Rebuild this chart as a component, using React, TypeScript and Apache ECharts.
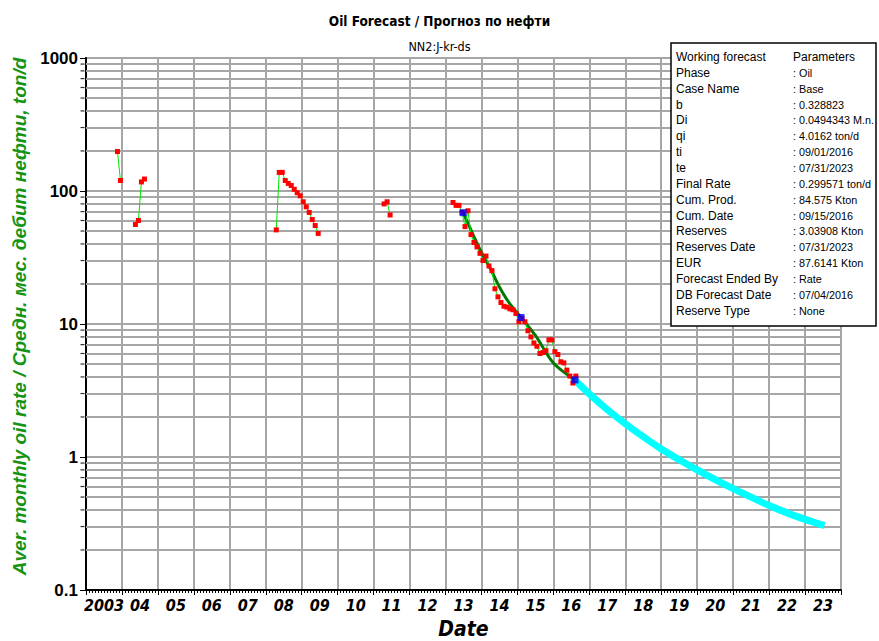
import { useEffect, useRef } from 'react';
import * as echarts from 'echarts';

const NARROW = "'Liberation Sans Narrow', 'Arial Narrow', 'DejaVu Sans Condensed', sans-serif";
const ARIAL = "'Liberation Sans', Arial, sans-serif";
const GRID = '#a6a6a6';

// X axis (years) labels
const yearLabels = ['2003', '04', '05', '06', '07', '08', '09', '10', '11', '12', '13', '14', '15', '16', '17', '18', '19', '20', '21', '22', '23'];

// Y axis (log) labels
const yTickValues = [0.1, 1, 10, 100, 1000];
const yTickLabels = ['0.1', '1', '10', '100', '1000'];
const yMinorValues = [
  0.2, 0.3, 0.4, 0.5, 0.6, 0.7, 0.8, 0.9,
  2, 3, 4, 5, 6, 7, 8, 9,
  20, 30, 40, 50, 60, 70, 80, 90,
  200, 300, 400, 500, 600, 700, 800, 900,
];

// Historical monthly oil rate, ton/d (segments separated by gaps)
const seg1Months = ['2003-11', '2003-12'];
const seg1Rates = [198, 120];
const seg2Months = ['2004-05', '2004-06', '2004-07', '2004-08'];
const seg2Rates = [56, 60, 117, 123];
const seg3Months = ['2008-04', '2008-05', '2008-06', '2008-07', '2008-08', '2008-09', '2008-10', '2008-11', '2008-12',
  '2009-01', '2009-02', '2009-03', '2009-04', '2009-05', '2009-06'];
const seg3Rates = [51, 138, 138, 120, 114, 110, 103, 97, 92, 83, 76, 69, 61, 55, 48];
const seg4Months = ['2011-04', '2011-05', '2011-06'];
const seg4Rates = [80, 83, 66];
const seg5Months = [
  '2013-03', '2013-04', '2013-05', '2013-06', '2013-07', '2013-08', '2013-09', '2013-10', '2013-11', '2013-12',
  '2014-01', '2014-02', '2014-03', '2014-04', '2014-05', '2014-06', '2014-07', '2014-08', '2014-09', '2014-10', '2014-11', '2014-12',
  '2015-01', '2015-02', '2015-03', '2015-04', '2015-05', '2015-06', '2015-07', '2015-08', '2015-09', '2015-10', '2015-11', '2015-12',
  '2016-01', '2016-02', '2016-03', '2016-04', '2016-05', '2016-06', '2016-07', '2016-08',
];
const seg5Rates = [
  82, 78, 78, 69, 54, 71, 47, 41, 38, 34,
  30, 32.4, 27.3, 25.2, 18.4, 16, 14.5, 13.6, 13.4, 13.0, 12.8, 12.0,
  10.4, 11.0, 10.4, 8.9, 8.0, 7.2, 6.8, 6.0, 6.1, 6.3, 7.6, 7.6,
  6.2, 5.9, 5.2, 5.1, 4.5, 4.06, 3.6, 4.06,
];

// Decline fit (decimal years)
const fitDates = [2013.49, 2013.75, 2014.0, 2014.25, 2014.5, 2014.75, 2015.1, 2015.5, 2016.0, 2016.6];
const fitRates = [68.7, 48, 34.5, 26, 19, 14.7, 11.2, 8.2, 5.1, 3.8];

// Fit anchor points
const anchorDates = [2013.49, 2015.1, 2016.6];
const anchorRates = [68.7, 11.2, 3.8];

// Forecast
const fcDates = [2016.62, 2017.0, 2017.5, 2018.0, 2018.5, 2019.0, 2019.5, 2020.0, 2020.5, 2021.0, 2021.5, 2022.0, 2022.5, 2023.0, 2023.54];
const fcRates = [3.75, 2.98, 2.27, 1.78, 1.42, 1.15, 0.955, 0.80, 0.676, 0.578, 0.499, 0.432, 0.38, 0.34, 0.305];

// Parameter box
const legendLabels = ['Working forecast', 'Phase', 'Case Name', 'b', 'Di', 'qi', 'ti', 'te', 'Final Rate', 'Cum. Prod.',
  'Cum. Date', 'Reserves', 'Reserves Date', 'EUR', 'Forecast Ended By', 'DB Forecast Date', 'Reserve Type'];
const legendValues = ['Parameters', ': Oil', ': Base', ': 0.328823', ': 0.0494343 M.n.', ': 4.0162 ton/d', ': 09/01/2016',
  ': 07/31/2023', ': 0.299571 ton/d', ': 84.575 Kton', ': 09/15/2016', ': 3.03908 Kton', ': 07/31/2023', ': 87.6141 Kton',
  ': Rate', ': 07/04/2016', ': None'];

const monthToYear = (m: string) => {
  const [y, mo] = m.split('-').map(Number);
  return y + (mo - 0.5) / 12;
};
const zip = (xs: number[], ys: number[]) => xs.map((x, i) => [x, ys[i]]);

const histSegments = [
  [seg1Months, seg1Rates],
  [seg2Months, seg2Rates],
  [seg3Months, seg3Rates],
  [seg4Months, seg4Rates],
  [seg5Months, seg5Rates],
] as [string[], number[]][];

function buildOption(): any {
  const histSeries = histSegments.map(([ms, rs]) => ({
    type: 'line',
    data: ms.map((m, i) => [monthToYear(m), rs[i]]),
    symbol: 'rect',
    symbolSize: 5,
    showAllSymbol: true,
    itemStyle: { color: '#ff0000' },
    lineStyle: { color: '#00e600', width: 1 },
    z: 5,
    silent: true,
  }));

  const boxChildren: any[] = [
    {
      type: 'rect', z: 100, zlevel: 0,
      shape: { x: 671, y: 43, width: 205, height: 283 },
      style: { fill: '#ffffff', stroke: '#000000', lineWidth: 1.5 },
    },
  ];
  legendLabels.forEach((lab, i) => {
    const y = 57 + i * 15.85;
    boxChildren.push({
      type: 'text', x: 676, y, z: 101,
      style: { text: lab, fontFamily: ARIAL, fontSize: 12, fill: '#000', verticalAlign: 'middle' },
    });
    boxChildren.push({
      type: 'text', x: 793, y, z: 101,
      style: { text: legendValues[i], fontFamily: ARIAL, fontSize: i === 0 ? 12 : 10.8, fill: '#000', verticalAlign: 'middle' },
    });
  });

  return {
    animation: false,
    backgroundColor: '#ffffff',
    title: [
      {
        text: 'Oil Forecast / Прогноз по нефти',
        left: 'center', top: 9,
        textStyle: { fontFamily: NARROW, fontSize: 13.5, fontWeight: 'bold', color: '#000' },
      },
      {
        text: 'NN2:J-kr-ds',
        left: 'center', top: 35,
        textStyle: { fontFamily: NARROW, fontSize: 12.5, fontWeight: 'normal', color: '#000' },
      },
    ],
    grid: {
      left: 86, right: 38, top: 58, bottom: 51,
      outerBoundsMode: 'none',
      containLabel: false,
      show: true, borderColor: '#000', borderWidth: 1.5, backgroundColor: '#fff',
    },
    xAxis: [
      {
        type: 'value', min: 2003, max: 2024, interval: 1,
        axisLine: { lineStyle: { color: '#000', width: 2 } },
        axisTick: { length: 5, lineStyle: { color: '#000', width: 1 } },
        minorTick: { show: true, splitNumber: 12, length: 3, lineStyle: { color: '#000', width: 1 } },
        axisLabel: { show: false },
        splitLine: { show: true, lineStyle: { color: GRID, width: 2 } },
      },
      {
        type: 'category', data: yearLabels, position: 'bottom', boundaryGap: true,
        axisLine: { show: false }, axisTick: { show: false }, splitLine: { show: false },
        axisLabel: {
          interval: 0, margin: 7, color: '#000',
          fontFamily: NARROW, fontWeight: 'bold', fontStyle: 'italic', fontSize: 16,
        },
        name: 'Date', nameLocation: 'middle', nameGap: 28,
        nameTextStyle: { fontFamily: NARROW, fontWeight: 'bold', fontStyle: 'italic', fontSize: 21, color: '#000' },
      },
    ],
    yAxis: {
      type: 'log', logBase: 10, min: 0.1, max: 1000,
      axisLine: { show: true, lineStyle: { color: '#000', width: 2 } },
      axisTick: { show: true, length: 6, lineStyle: { color: '#000', width: 1 } },
      axisLabel: {
        margin: 8, color: '#000', fontFamily: ARIAL, fontWeight: 'bold', fontSize: 17,
        formatter: (v: number) => {
          let best = 0;
          yTickValues.forEach((t, i) => {
            if (Math.abs(Math.log10(t) - Math.log10(v)) < Math.abs(Math.log10(yTickValues[best]) - Math.log10(v))) best = i;
          });
          return yTickLabels[best];
        },
      },
      splitLine: { show: true, lineStyle: { color: GRID, width: 2 } },
      name: 'Aver. monthly oil rate / Средн. мес. дебит нефти, ton/d',
      nameLocation: 'middle', nameGap: 57,
      nameTextStyle: {
        color: '#149314', fontFamily: ARIAL, fontWeight: 'bold', fontStyle: 'italic', fontSize: 19,
        padding: [0, 0, 0, 15],
      },
    },
    series: [
      {
        type: 'line', data: [], z: 1, silent: true,
        markLine: {
          silent: true, symbol: ['none', 'none'], label: { show: false }, z: 1,
          lineStyle: { color: GRID, width: 2, type: 'solid' },
          data: yMinorValues.map((v) => ({ yAxis: v })),
        },
      },
      {
        type: 'scatter', data: yMinorValues.map((v) => [2003, v]), symbol: 'rect',
        symbolSize: [4, 1.2], symbolOffset: [-3.5, 0], itemStyle: { color: '#000' },
        clip: false, silent: true, z: 6,
      },
      {
        type: 'line', data: zip(fcDates, fcRates), smooth: 0.3, symbol: 'none',
        lineStyle: { color: '#00ffff', width: 7 }, z: 3, silent: true,
      },
      {
        type: 'line', data: zip(fitDates, fitRates), smooth: 0.3, symbol: 'none',
        lineStyle: { color: '#007a00', width: 3 }, z: 4, silent: true,
      },
      ...histSeries,
      {
        type: 'scatter', data: zip(anchorDates, anchorRates), symbol: 'rect', symbolSize: 7,
        itemStyle: { color: '#0000ff' }, z: 7, silent: true,
      },
    ],
    graphic: [{ type: 'group', z: 100, children: boxChildren }],
  };
}

export default function App() {
  const ref = useRef<HTMLDivElement>(null);
  useEffect(() => {
    const chart = echarts.init(ref.current!, null, { renderer: 'svg', width: 879, height: 641 });
    chart.setOption(buildOption());
    return () => chart.dispose();
  }, []);
  return (
    <div
      ref={ref}
      style={{ position: 'fixed', left: 0, top: 0, width: 879, height: 641, background: '#fff' }}
    />
  );
}
